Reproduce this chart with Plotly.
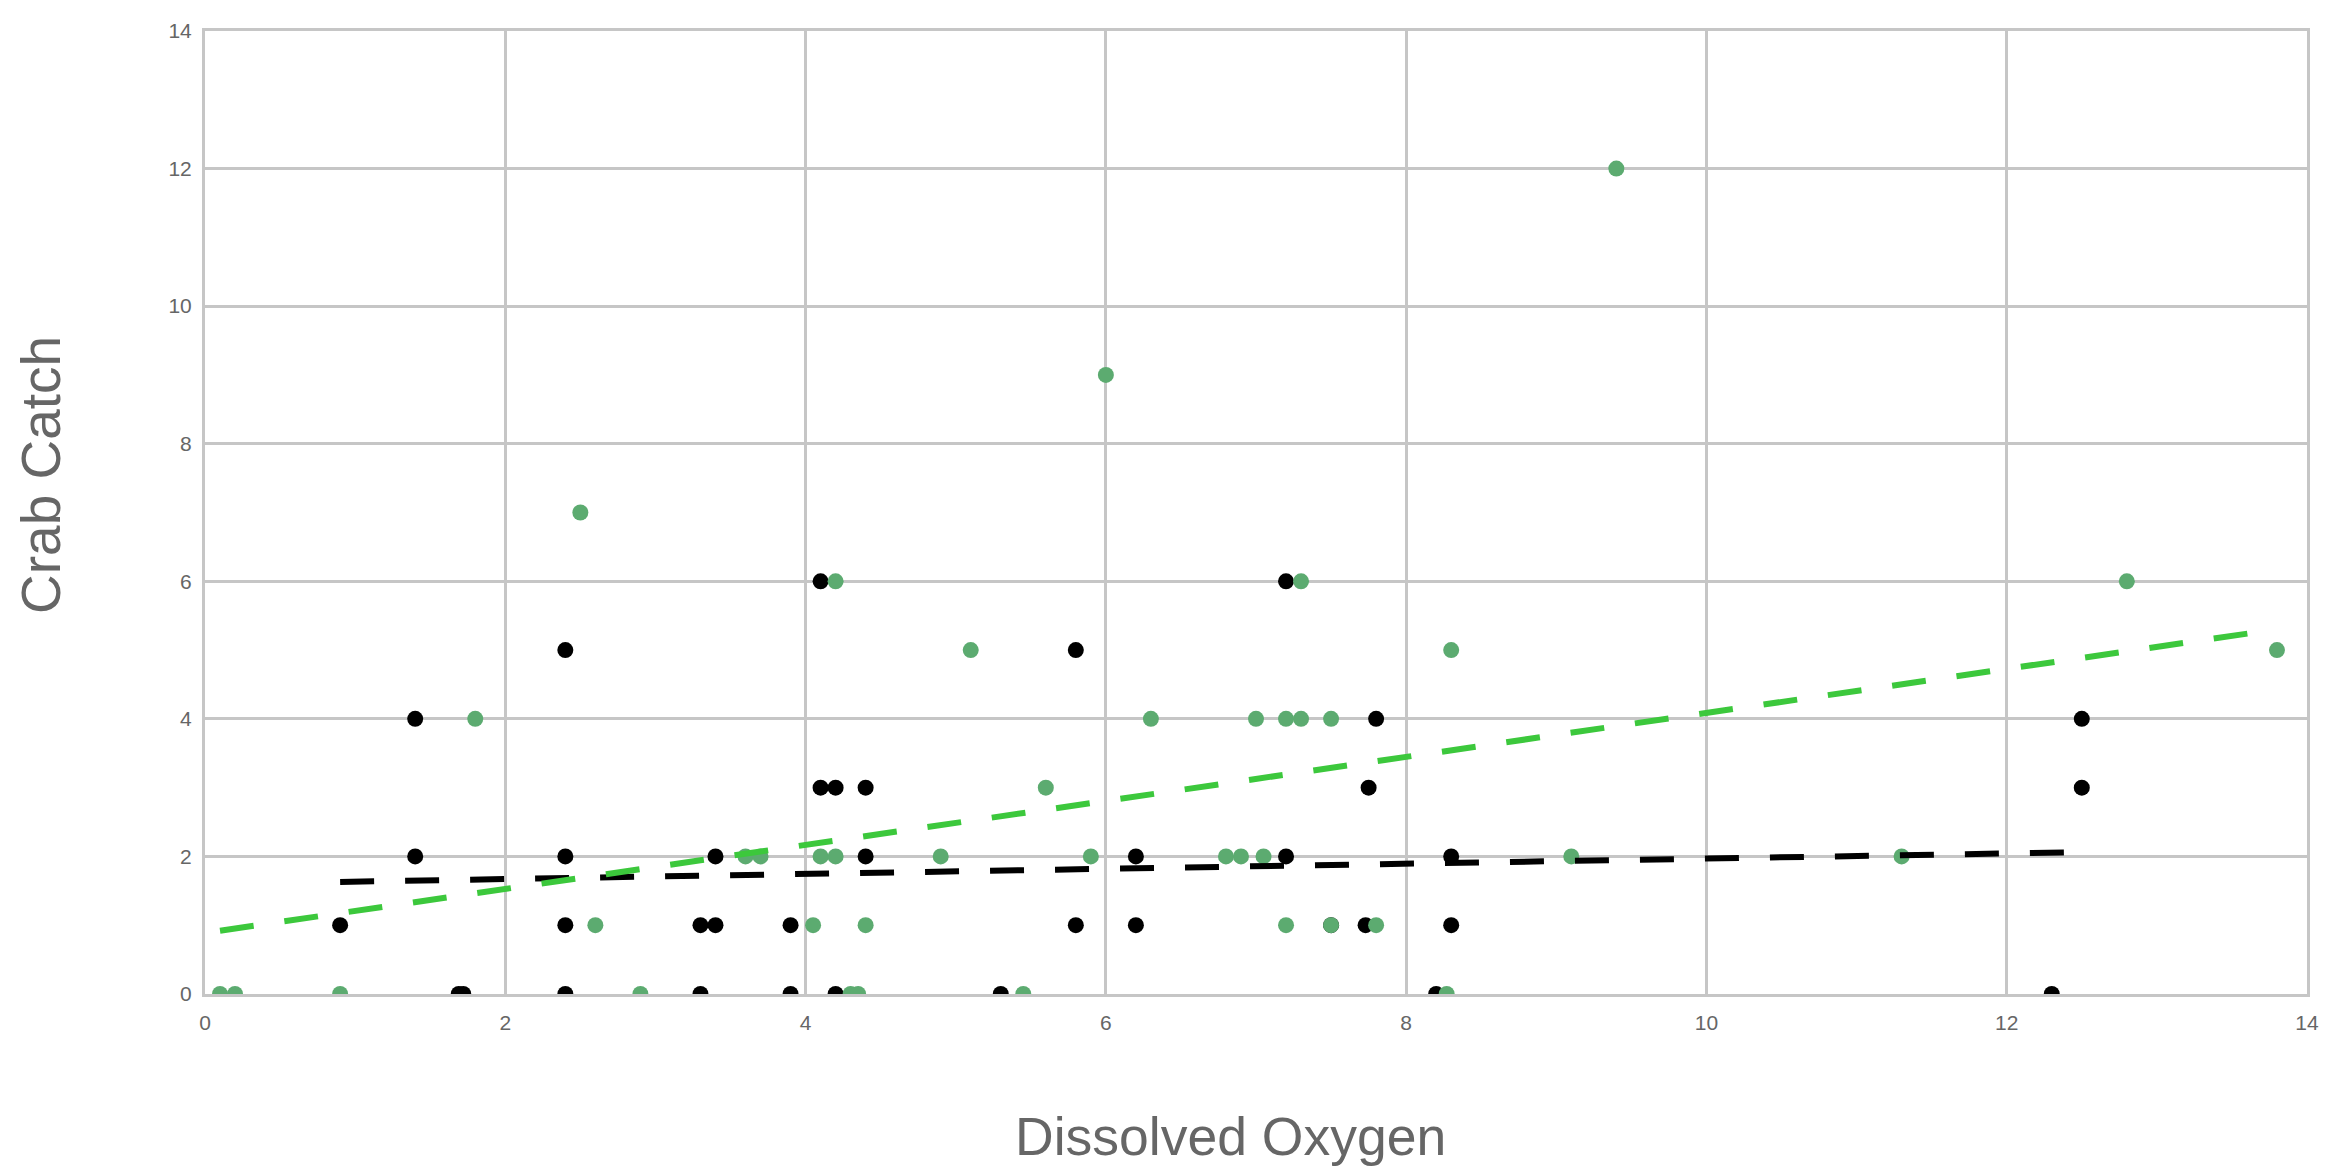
import plotly.graph_objects as go

# Black series (x = dissolved oxygen, y = crab catch)
black_x = [0.9, 1.4, 1.4, 1.69, 1.72, 2.4, 2.4, 2.4, 2.4, 3.3, 3.4, 3.4, 3.3,
           3.9, 3.9, 4.1, 4.1, 4.2, 4.4, 4.4, 4.2, 5.3, 5.8, 5.8, 6.2, 6.2,
           7.2, 7.2, 7.5, 7.73, 7.75, 7.8, 8.2, 8.3, 8.3, 12.3, 12.5, 12.5]
black_y = [1, 4, 2, 0, 0, 5, 2, 1, 0, 1, 1, 2, 0,
           1, 0, 6, 3, 3, 3, 2, 0, 0, 5, 1, 2, 1,
           6, 2, 1, 1, 3, 4, 0, 2, 1, 0, 4, 3]

# Green series
green_x = [0.1, 0.2, 0.9, 1.8, 2.5, 2.6, 2.9, 3.6, 3.7, 4.05, 4.1, 4.2, 4.2,
           4.3, 4.35, 4.4, 4.9, 5.1, 5.45, 5.6, 5.9, 6.0, 6.3, 6.8, 6.9, 7.0,
           7.05, 7.2, 7.3, 7.2, 7.3, 7.5, 7.5, 7.8, 8.27, 8.3, 9.1, 9.4, 11.3,
           12.8, 13.8]
green_y = [0, 0, 0, 4, 7, 1, 0, 2, 2, 1, 2, 2, 6,
           0, 0, 1, 2, 5, 0, 3, 2, 9, 4, 2, 2, 4,
           2, 4, 4, 1, 6, 4, 1, 1, 0, 5, 2, 12, 2,
           6, 5]

# Trend lines (endpoints)
black_trend_x = [0.9, 12.45]
black_trend_y = [1.63, 2.06]
green_trend_x = [0.1, 13.7]
green_trend_y = [0.92, 5.27]

tick_vals = [0, 2, 4, 6, 8, 10, 12, 14]
tick_text = ["0", "2", "4", "6", "8", "10", "12", "14"]

fig = go.Figure()
fig.add_trace(go.Scatter(x=black_x, y=black_y, mode="markers",
                         marker=dict(color="#000000", size=16), showlegend=False))
fig.add_trace(go.Scatter(x=green_x, y=green_y, mode="markers",
                         marker=dict(color="#5cab70", size=16), showlegend=False))
fig.add_trace(go.Scatter(x=black_trend_x, y=black_trend_y, mode="lines",
                         line=dict(color="#000000", width=6, dash="34px,31px"),
                         showlegend=False))
fig.add_trace(go.Scatter(x=green_trend_x, y=green_trend_y, mode="lines",
                         line=dict(color="#3cc83c", width=6, dash="34px,31px"),
                         showlegend=False))

axis_common = dict(
    range=[0, 14], tickvals=tick_vals, ticktext=tick_text,
    showgrid=True, gridcolor="#c6c6c6", gridwidth=3,
    showline=True, linecolor="#c6c6c6", linewidth=3, mirror=True,
    zeroline=False, ticks="",
    tickfont=dict(family="Liberation Sans", size=21, color="#666666"),
)

# The page body adds an 8px margin, so the figure is sized/offset to compensate.
fig.update_layout(
    width=2322, height=1158,
    margin=dict(l=197, r=11, t=12, b=172),
    paper_bgcolor="white", plot_bgcolor="white",
    xaxis=dict(**axis_common, ticklabelstandoff=8),
    yaxis=dict(**axis_common, ticklabelstandoff=6),
    annotations=[
        dict(text="Dissolved Oxygen", xref="paper", yref="paper",
             x=0.488, y=-0.148, xanchor="center", yanchor="middle",
             showarrow=False,
             font=dict(family="Liberation Sans", size=53.5, color="#666666")),
        dict(text="Crab Catch", xref="paper", yref="paper",
             x=-0.078, y=0.539, xanchor="center", yanchor="middle",
             textangle=-90, showarrow=False,
             font=dict(family="Liberation Sans", size=55, color="#666666")),
    ],
)

fig.write_html("out.html")
